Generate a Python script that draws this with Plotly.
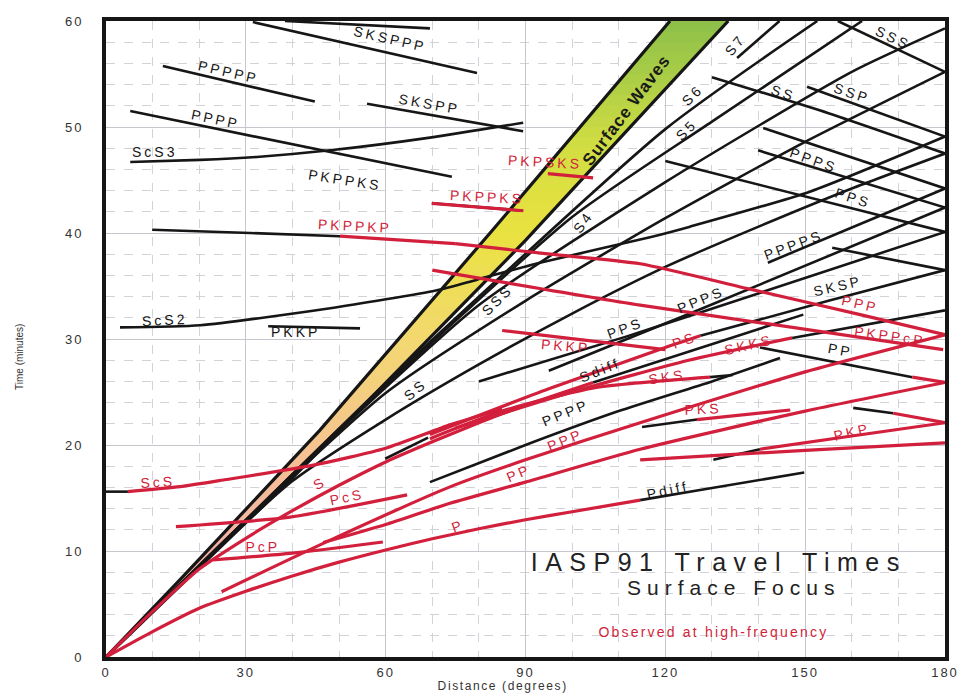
import numpy as np
import plotly.graph_objects as go

RED = "#d21f3c"
BLACK = "#161616"
FONT = "Liberation Sans, Arial, sans-serif"

# ---------------- travel-time branches: (distance deg, time min) ----------------
# black (theoretical) branches
top_branch = ([38.4, 69.5], [60.0, 59.3])
sksppp = ([31.5, 79.6], [59.9, 55.1])
ppppp = ([12.2, 44.8], [55.75, 52.4])
pppp_upper = ([5.2, 74.2], [51.5, 45.3])
scs3 = ([5.2, 20.2, 33.0, 48.1, 69.5, 89.5], [46.7, 46.9, 47.2, 47.8, 49.0, 50.4])
skspp = ([56.0, 89.5], [52.2, 49.6])
pkppks = ([24.9, 69.5], [46.4, 43.1])
pkppkp_black = ([9.9, 30.9, 50.2], [40.3, 40.0, 39.7])
scs2 = ([3.0, 20.2, 48.1, 71.0, 79.6, 93.1, 116.7, 125.3, 151.0, 180.0],
        [31.1, 31.3, 32.9, 34.6, 35.6, 37.2, 39.6, 40.6, 43.9, 49.1])
pkkp_black = ([34.8, 54.5], [31.2, 31.0])
ss = ([0, 10, 20, 40, 60, 80, 100, 120, 140, 160, 180],
      [0, 4.3, 8.6, 16.6, 22.4, 27.6, 32.4, 36.8, 40.6, 44.2, 47.5])
sss = ([0, 15, 30, 60, 90, 120, 150, 180], [0, 6.45, 12.9, 24.9, 33.6, 41.4, 48.6, 55.2])
s4 = ([0, 20, 40, 80, 120, 160, 180], [0, 8.6, 17.2, 33.2, 44.8, 55.2, 59.3])
s5 = ([0, 25, 50, 100, 130, 162.2], [0, 10.75, 21.5, 41.5, 50.5, 60.0])
s6 = ([0, 30, 60, 120, 152.6], [0, 12.9, 25.8, 49.8, 60.0])
s7 = ([135.4, 144.5], [56.5, 60.0])
ss_major = ([130, 155, 180], [54.7, 51.3, 47.5])
ssp_major = ([150.4, 180], [53.8, 49.1])
sss_major = ([157.0, 180], [60.0, 55.2])
skksp_major = ([141.0, 180], [49.9, 44.2])
ppps_major = ([139.9, 180], [47.8, 42.4])
pps_major = ([120.0, 180], [46.8, 40.1])
sksp_major = ([155.8, 180], [38.6, 36.5])
pp_major_black = ([140.3, 173.0], [29.2, 26.4])
pkpab_major_black = ([160.3, 168.9], [23.5, 23.0])
pppps = ([142.0, 180], [37.2, 44.2])
ppps = ([95.0, 127.5, 180], [27.0, 32.8, 42.4])
pps = ([80.0, 111.4, 127.5, 180], [26.0, 30.2, 32.5, 40.1])
ps_black = ([127.5, 155.0, 180], [30.3, 33.6, 36.5])
skks_black = ([147.2, 180], [30.1, 32.7])
sks_black = ([129.6, 134.5], [26.4, 26.6])
sdiff = ([104.5, 149.6], [25.9, 32.3])
pppp = ([69.5, 90, 110, 130, 144.6], [16.5, 20.0, 23.2, 26.0, 28.2])
pks_black = ([115.0, 126.8], [21.7, 22.4])
pdiff = ([114.6, 130, 149.8], [14.8, 15.95, 17.4])
pkp_black = ([130.3, 140.3], [18.6, 19.6])
scs_black_mid = ([59.9, 69.1], [18.7, 20.7])
scs_black_start = ([0, 4.7], [15.6, 15.6])

# red (observed at high frequency) branches
p_wave = ([0, 10, 20, 30, 40, 50, 60, 70, 80, 90, 100, 114.6],
          [0, 2.4, 4.6, 6.2, 7.65, 8.95, 10.1, 11.15, 12.1, 12.95, 13.7, 14.8])
s_wave = ([0, 10, 20, 30, 40, 50, 60, 70, 80, 90, 104.5],
          [0, 4.3, 8.3, 11.2, 13.8, 16.2, 18.4, 20.3, 22.1, 23.75, 25.9])
scs = ([4.7, 15.9, 25.2, 44.5, 60, 73.8, 85], [15.6, 16.07, 16.7, 18.1, 19.7, 21.9, 23.4])
pcs = ([15, 39.5, 64.6], [12.3, 13.2, 15.3])
pcp = ([23, 40, 59.4], [9.15, 9.8, 10.85])
pp = ([46.6, 60, 73.8, 90, 114.6, 150, 180], [10.8, 12.5, 14.5, 16.5, 19.6, 23.2, 25.9])
ppp = ([24.8, 48, 73.8, 90, 114.6, 150, 180], [6.16, 11.0, 16.05, 18.6, 22.1, 26.9, 30.4])
pkikp = ([114.6, 150, 180], [18.6, 19.5, 20.2])
pkpab = ([140.3, 160, 180], [19.6, 20.85, 22.1])
pks = ([126.8, 146.8], [22.4, 23.3])
sks = ([69.5, 85, 104.9, 129.6], [20.6, 23.2, 25.4, 26.4])
skks = ([75, 100, 125, 147.2], [21.6, 25.0, 28.0, 30.1])
ps = ([69.5, 95, 120, 127.5], [21.0, 25.3, 29.2, 30.3])
pkkp = ([85, 120], [30.8, 29.0])
pkppcp = ([70, 114.6, 179.6], [36.5, 33.2, 29.0])
pkppkp = ([50.2, 74.9], [39.7, 39.0])
ppp_major = ([74.9, 95.3, 114.6, 138.2, 161.8, 180], [39.0, 38.0, 37.1, 34.7, 32.3, 30.4])
pkppks = ([69.9, 89.5], [42.8, 42.1])
pkpsks = ([94.8, 104.5], [45.6, 45.2])
pp_major = ([173.0, 180], [26.4, 25.9])
pkpab_major = ([168.9, 180], [23.0, 22.1])

black_branches = [top_branch, sksppp, ppppp, pppp_upper, scs3, skspp, pkppks, pkppkp_black,
                  scs2, pkkp_black, ss, sss, s4, s5, s6, s7, ss_major, ssp_major, sss_major,
                  skksp_major, ppps_major, pps_major, sksp_major, pp_major_black,
                  pkpab_major_black, pppps, ppps, pps, ps_black, skks_black, sks_black, sdiff,
                  pppp, pks_black, pdiff, pkp_black, scs_black_mid, scs_black_start]
red_branches = [p_wave, s_wave, scs, pcs, pcp, pp, ppp, pkikp, pkpab, pks, sks, skks, ps, pkkp,
                pkppcp, pkppkp, ppp_major, pkppks, pkpsks, pp_major, pkpab_major]

# surface-wave band edges (slow / fast group velocity)
band_slow_deg = [0, 15.9, 45.9, 83, 121]
band_slow_min = [0, 7.3, 21.4, 40.3, 60]
band_fast_deg = [0, 40, 90, 133.5]
band_fast_min = [0, 16.9, 39.3, 60]
band_color_min = [0, 12, 20, 30, 40, 48, 60]
band_colors = ["#f2a8a8", "#f4b4a4", "#f5c490", "#f3d870", "#eae240", "#d2de42", "#8cc04a"]

# phase labels: text, distance, time, rotation, colour
phase_labels = [
    ("SKSPPP", 61.0, 58.3, 13, BLACK), ("PPPPP", 26.2, 55.2, 13, BLACK),
    ("PPPP", 23.4, 50.8, 12, BLACK), ("ScS3", 10.5, 47.6, 0, BLACK),
    ("SKSPP", 69.5, 52.2, 10, BLACK), ("PKPPKS", 51.3, 45.0, 9, BLACK),
    ("ScS2", 12.7, 31.8, -3, BLACK), ("PKKP", 40.6, 30.7, 0, BLACK),
    ("SS", 66.3, 25.2, -40, BLACK), ("SSS", 83.9, 33.7, -45, BLACK),
    ("S4", 102.4, 41.0, -55, BLACK), ("S5", 124.5, 49.7, -45, BLACK),
    ("S6", 125.8, 53.0, -45, BLACK), ("S7", 135.0, 57.7, -50, BLACK),
    ("SS", 145.3, 53.2, 18, BLACK), ("SSP", 160.0, 53.2, 18, BLACK),
    ("SSS", 168.9, 58.4, 25, BLACK), ("PPPS", 151.7, 46.9, 20, BLACK),
    ("PPS", 160.3, 43.3, 18, BLACK), ("PPPPS", 147.4, 38.9, -20, BLACK),
    ("SKSP", 157.0, 35.0, -13, BLACK), ("PPPS", 127.5, 33.7, -22, BLACK),
    ("PPS", 111.4, 31.0, -20, BLACK), ("Sdiff", 106.0, 27.1, -22, BLACK),
    ("PPPP", 98.5, 23.0, -22, BLACK), ("PP", 157.5, 29.0, 10, BLACK),
    ("Pdiff", 120.6, 15.75, -12, BLACK),
    ("PKPSKS", 94.2, 46.7, 3, RED), ("PKPPKS", 81.7, 43.4, 3, RED),
    ("PKPPKP", 53.4, 40.7, 3, RED), ("PPP", 161.8, 33.3, 13, RED),
    ("PKPPcP", 168.2, 30.3, 8, RED), ("PKKP", 98.5, 29.3, 5, RED),
    ("PS", 124.2, 29.9, -20, RED), ("SKKS", 137.8, 29.4, -13, RED),
    ("SKS", 120.4, 26.4, -8, RED), ("PKS", 128.0, 23.4, -3, RED),
    ("PKP", 160.0, 21.2, -13, RED), ("PPP", 98.5, 20.5, -22, RED),
    ("PP", 88.6, 17.4, -22, RED), ("P", 75.5, 12.4, -20, RED),
    ("PcS", 51.7, 15.1, -12, RED), ("S", 45.9, 16.4, -30, RED),
    ("ScS", 11.2, 16.5, -3, RED), ("PcP", 33.7, 10.4, 0, RED),
]

x_ticks = [0, 30, 60, 90, 120, 150, 180]
y_ticks = [0, 10, 20, 30, 40, 50, 60]


def mix(c1, c2, f):
    a = [int(c1[i:i + 2], 16) for i in (1, 3, 5)]
    b = [int(c2[i:i + 2], 16) for i in (1, 3, 5)]
    return "rgb(%d,%d,%d)" % tuple(round(a[k] + (b[k] - a[k]) * f) for k in range(3))


def band_color(t):
    i = int(np.clip(np.searchsorted(band_color_min, t) - 1, 0, len(band_colors) - 2))
    f = (t - band_color_min[i]) / (band_color_min[i + 1] - band_color_min[i])
    return mix(band_colors[i], band_colors[i + 1], float(np.clip(f, 0, 1)))


fig = go.Figure()

# gradient-filled surface wave band, built from thin slices between the edges
levels = np.linspace(0, 60, 61)
for lo, hi in zip(levels[:-1], levels[1:]):
    top = min(hi + 0.35, 60)
    xl0 = np.interp(lo, band_slow_min, band_slow_deg)
    xl1 = np.interp(top, band_slow_min, band_slow_deg)
    xr0 = np.interp(lo, band_fast_min, band_fast_deg)
    xr1 = np.interp(top, band_fast_min, band_fast_deg)
    fig.add_trace(go.Scatter(x=[xl0, xl1, xr1, xr0, xl0], y=[lo, top, top, lo, lo],
                             mode="lines", fill="toself", fillcolor=band_color((lo + hi) / 2),
                             line=dict(width=0), hoverinfo="skip", showlegend=False))
for dx, dy in [(band_slow_deg, band_slow_min), (band_fast_deg, band_fast_min)]:
    fig.add_trace(go.Scatter(x=dx, y=dy, mode="lines", line=dict(color=BLACK, width=3.2),
                             hoverinfo="skip", showlegend=False))


def add_branch(branch, color, width):
    d, t = branch
    shape = "spline" if len(d) > 2 else "linear"
    fig.add_trace(go.Scatter(x=d, y=t, mode="lines",
                             line=dict(color=color, width=width, shape=shape, smoothing=0.6),
                             hoverinfo="skip", showlegend=False))


for b in black_branches:
    add_branch(b, BLACK, 2.6)
for b in red_branches:
    add_branch(b, RED, 3.2)

annotations = []
for text, d, t, ang, col in phase_labels:
    annotations.append(dict(x=d, y=t, xref="x", yref="y", text=text, showarrow=False,
                            textangle=ang, font=dict(family=FONT, size=14, color=col)))

annotations += [
    dict(x=111.6, y=51.6, xref="x", yref="y", text="<b>Surface Waves</b>", showarrow=False,
         textangle=-53, font=dict(family=FONT, size=17, color="#1a1a1a")),
    dict(x=131.3, y=9.0, xref="x", yref="y", text="IASP91 Travel Times", showarrow=False,
         font=dict(family=FONT, size=25, color="#222222")),
    dict(x=134.6, y=6.55, xref="x", yref="y", text="Surface Focus", showarrow=False,
         font=dict(family=FONT, size=21, color="#222222")),
    dict(x=130.3, y=2.36, xref="x", yref="y", text="Observed at high-frequency", showarrow=False,
         font=dict(family=FONT, size=14, color=RED)),
    dict(x=(502 - 106) / 839, y=-(686 - 657) / 636, xref="paper", yref="paper",
         xanchor="center", yanchor="middle",
         text="Distance (degrees)", showarrow=False,
         font=dict(family=FONT, size=12, color="#333333")),
    dict(x=(19 - 106) / 839, y=(657 - 357) / 636, xref="paper", yref="paper",
         xanchor="center", yanchor="middle",
         text="Time (minutes)", showarrow=False, textangle=-90,
         font=dict(family=FONT, size=10, color="#333333")),
]

axis_common = dict(showline=True, linewidth=4, linecolor=BLACK, mirror=True, ticks="",
                   zeroline=False, showgrid=True, gridcolor="#c6c6cc", gridwidth=1,
                   automargin=False,
                   tickfont=dict(family=FONT, size=13, color="#333333"))

fig.update_layout(
    width=967, height=693,
    margin=dict(l=106, r=22, t=21, b=36),
    paper_bgcolor="white", plot_bgcolor="white",
    showlegend=False,
    xaxis=dict(range=[0, 180], tickvals=x_ticks, ticklabelstandoff=0,
               minor=dict(dtick=10, showgrid=True, gridcolor="#d2d2d8", griddash="dash"),
               **axis_common),
    yaxis=dict(range=[0, 60], tickvals=y_ticks, ticklabelstandoff=16,
               minor=dict(dtick=2, showgrid=True, gridcolor="#d2d2d8", griddash="dash"),
               **axis_common),
    annotations=annotations,
)

tracking = """
var gd = document.getElementById('{plot_id}');
function track(){
  var sp = {'IASP91 Travel Times': '7.5px', 'Surface Focus': '6px',
            'Observed at high-frequency': '2.2px', 'Time (minutes)': '0px',
            'Distance (degrees)': '1.6px', 'Surface Waves': '1px'};
  gd.querySelectorAll('.annotation-text').forEach(function(t){
    var k = t.textContent;
    t.style.letterSpacing = (k in sp) ? sp[k] : '3px';
  });
  gd.querySelectorAll('.xtick text, .ytick text').forEach(function(t){
    t.style.letterSpacing = '2px';
  });
}
track();
if (gd.on) { gd.on('plotly_afterplot', track); }
setTimeout(track, 100);
"""

fig.write_html("out.html", post_script=tracking)
